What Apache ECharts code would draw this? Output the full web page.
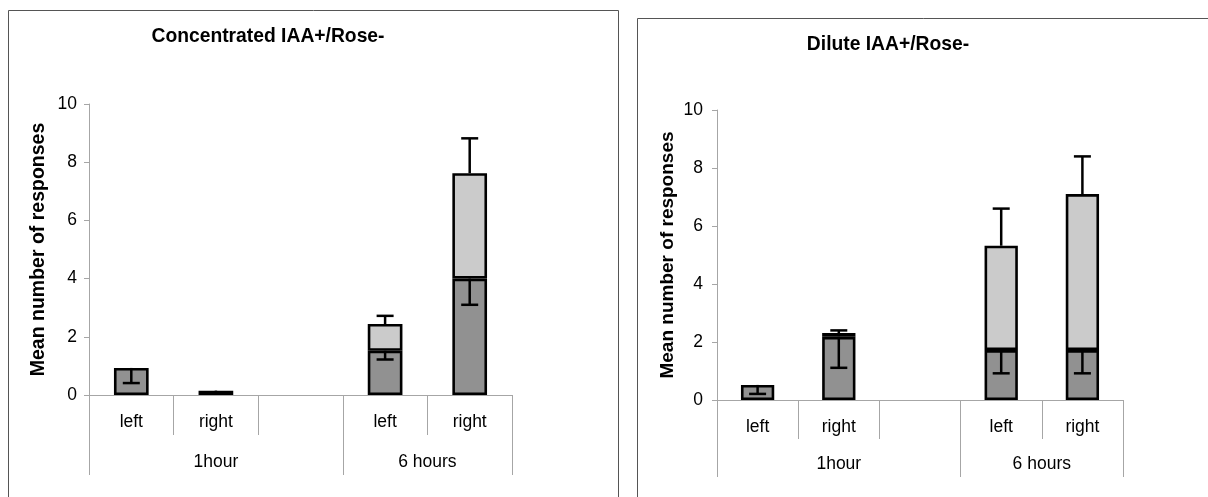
<!DOCTYPE html>
<html><head><meta charset="utf-8">
<script src="https://cdn.jsdelivr.net/npm/echarts@6/dist/echarts.min.js"></script>
<style>html,body{margin:0;padding:0;background:#fff}#c{width:1208px;height:497px}</style>
</head><body><div id="c"></div>
<script>
// ---- data ----
const categories = ['left', 'right', '', 'left', 'right'];
const groupNames = ['1hour', '6 hours'];
const groupSpans = [3, 2];
const yTicks = [0, 2, 4, 6, 8, 10];

const titles = ['Concentrated IAA+/Rose-', 'Dilute IAA+/Rose-'];
// Chart 1: concentrated
const concDark = [0.93, 0.15, null, 1.52, 4.0];
const concLight = [0, 0, null, 0.92, 3.62];
const concDarkErrLow = [0.52, 0.07, null, 0.3, 0.9];
const concTopErrHigh = [0, 0, null, 0.28, 1.2];
// Chart 2: dilute
const dilDark = [0.52, 2.18, null, 1.72, 1.72];
const dilLight = [0, 0.13, null, 3.6, 5.38];
const dilDarkErrLow = [0.31, 1.07, null, 0.8, 0.8];
const dilTopErrHigh = [0, 0.09, null, 1.28, 1.3];

// ---- build ----
const DARK = '#919191', LIGHT = '#cbcbcb', AXIS = '#a6a6a6';
const FONT = 'Liberation Sans, Arial, sans-serif';

// group-level axis: half-step slots
const halfSlots = [];
const groupTickIdx = [0];
{
  let pos = 0;
  for (let g = 0; g < groupNames.length; g++) {
    const n = groupSpans[g] * 2;
    for (let k = 0; k < n; k++) halfSlots.push(k === groupSpans[g] ? groupNames[g] : '');
    pos += n;
    groupTickIdx.push(pos);
  }
  halfSlots.push('');
}

const layouts = [
  {left: 89, top: 104, width: 423, height: 291, m1: 18, m2: 58, t1: 40, t2: 80, ygap: 40, ym: 12, tx: 268, ty: 37, ts: 19.3, ns: 19.5},
  {left: 717, top: 110, width: 406, height: 290, m1: 18, m2: 55, t1: 39, t2: 77, ygap: 40, ym: 14, tx: 888, ty: 45, ts: 19.3, ns: 19}
];
const datasets = [
  {dark: concDark, light: concLight, lo: concDarkErrLow, hi: concTopErrHigh},
  {dark: dilDark, light: dilLight, lo: dilDarkErrLow, hi: dilTopErrHigh}
];

const grid = [], xAxis = [], yAxis = [], series = [], graphic = [];
function errRender(params, api) {
  const x = api.value(0), y0 = api.value(1), y1 = api.value(2);
  if (y0 == null || isNaN(y0) || y0 === y1) return;
  const p0 = api.coord([x, y0]), p1 = api.coord([x, y1]);
  const hw = 8.5;
  return {type: 'group', children: [
    {type: 'line', shape: {x1: p0[0], y1: p0[1], x2: p1[0], y2: p1[1]}, style: {stroke: '#000', lineWidth: 2.5}},
    {type: 'line', shape: {x1: p1[0] - hw, y1: p1[1], x2: p1[0] + hw, y2: p1[1]}, style: {stroke: '#000', lineWidth: 2.5}}
  ]};
}

layouts.forEach((L, c) => {
  const D = datasets[c];
  grid.push({left: L.left, top: L.top, width: L.width, height: L.height, containLabel: false});
  graphic.push({type: 'text', x: L.tx, y: L.ty, z: 5,
    style: {text: titles[c], align: 'center', verticalAlign: 'middle', fill: '#000',
      font: 'bold ' + L.ts + 'px ' + FONT}});
  xAxis.push({type: 'category', gridIndex: c, data: categories,
    axisLine: {lineStyle: {color: AXIS, width: 1}},
    axisTick: {show: true, length: L.t1, lineStyle: {color: AXIS}},
    axisLabel: {margin: L.m1, fontFamily: FONT, fontSize: 17.5, color: '#000', interval: 0}});
  xAxis.push({type: 'category', gridIndex: c, data: halfSlots, boundaryGap: false, position: 'bottom',
    axisLine: {show: false},
    axisTick: {show: true, length: L.t2, interval: (i) => groupTickIdx.indexOf(i) >= 0, lineStyle: {color: AXIS}},
    axisLabel: {margin: L.m2, fontFamily: FONT, fontSize: 17.5, color: '#000', interval: 0}});
  yAxis.push({type: 'value', gridIndex: c, min: yTicks[0], max: yTicks[yTicks.length - 1], interval: yTicks[1] - yTicks[0],
    name: 'Mean number of responses', nameLocation: 'middle', nameGap: L.ygap, nameRotate: 90,
    nameTextStyle: {fontFamily: FONT, fontSize: L.ns, fontWeight: 'bold', color: '#000'},
    axisLine: {show: true, lineStyle: {color: AXIS}},
    axisTick: {show: true, length: 5, lineStyle: {color: AXIS}},
    splitLine: {show: false},
    axisLabel: {margin: L.ym, fontFamily: FONT, fontSize: 17.5, color: '#000'}});
  const xi = c * 2;
  const st = 'stk' + c;
  series.push({type: 'bar', xAxisIndex: xi, yAxisIndex: c, stack: st, barWidth: '41%', data: D.dark,
    itemStyle: {color: DARK, borderColor: '#000', borderWidth: 2.6}, silent: true});
  series.push({type: 'bar', xAxisIndex: xi, yAxisIndex: c, stack: st, barWidth: '41%',
    data: D.light.map(v => v === 0 ? null : v),
    itemStyle: {color: LIGHT, borderColor: '#000', borderWidth: 2.6}, silent: true});
  const errLo = D.dark.map((v, i) => v == null ? [i, NaN, NaN] : [i, v, v - D.lo[i]]);
  const errHi = D.dark.map((v, i) => {
    if (v == null) return [i, NaN, NaN];
    const t = v + (D.light[i] || 0);
    return [i, t, t + D.hi[i]];
  });
  series.push({type: 'custom', xAxisIndex: xi, yAxisIndex: c, renderItem: errRender, data: errLo, z: 10, silent: true});
  series.push({type: 'custom', xAxisIndex: xi, yAxisIndex: c, renderItem: errRender, data: errHi, z: 10, silent: true});
});

graphic.push(
  {type: 'polyline', shape: {points: [[8.5, 520], [8.5, 10.5], [618.5, 10.5], [618.5, 520]]}, style: {stroke: '#555', lineWidth: 1, fill: null}, z: 0},
  {type: 'polyline', shape: {points: [[637.5, 520], [637.5, 18.5], [1220, 18.5]]}, style: {stroke: '#555', lineWidth: 1, fill: null}, z: 0}
);

const chart = echarts.init(document.getElementById('c'), null, {renderer: 'canvas'});
chart.setOption({
  animation: false,
  backgroundColor: '#fff',
  grid, xAxis, yAxis, series, graphic
});
</script></body></html>
